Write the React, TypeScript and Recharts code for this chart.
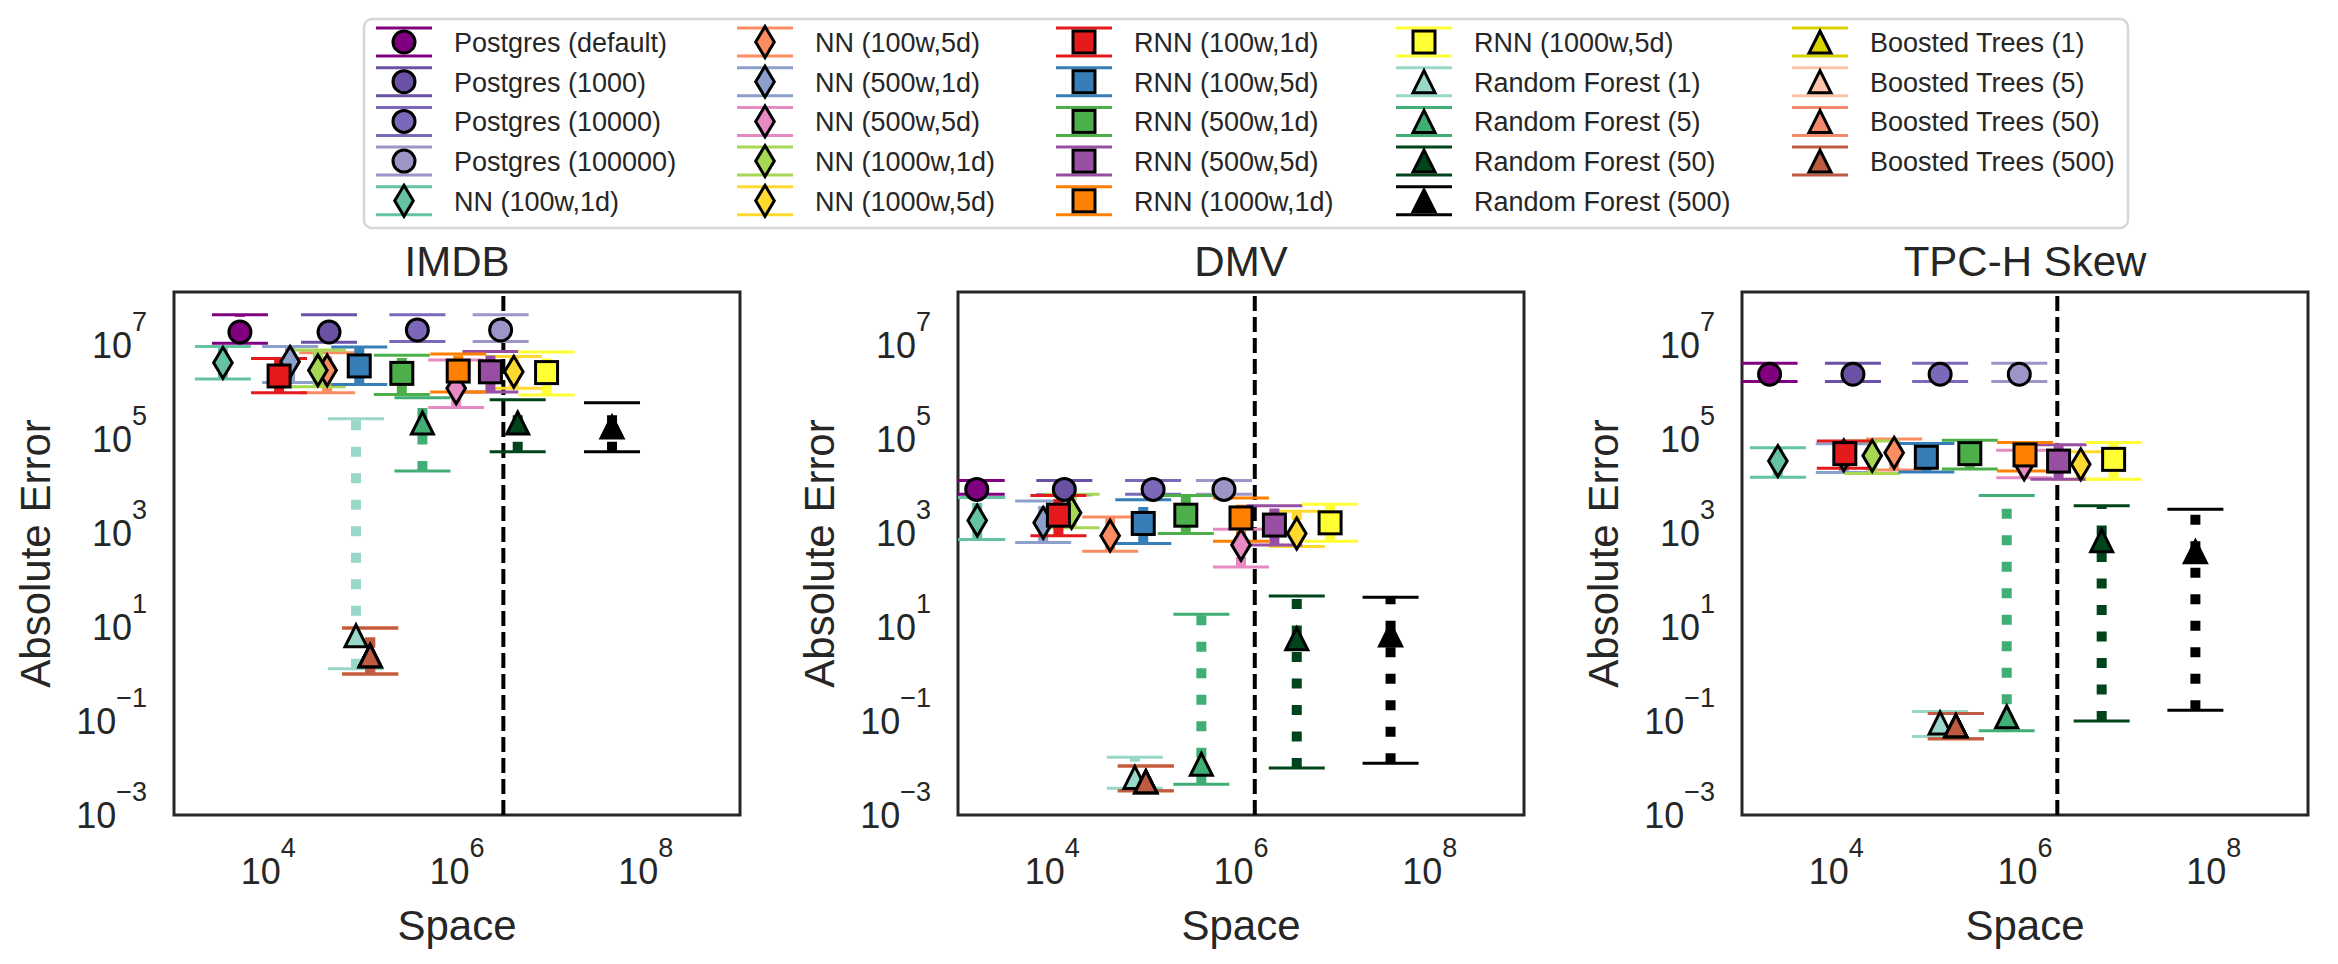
import React from 'react'
import { ScatterChart, Scatter, XAxis, YAxis, ReferenceLine, ReferenceArea } from 'recharts'

const SERIES = [
  'Postgres (default)', 'Postgres (1000)', 'Postgres (10000)', 'Postgres (100000)',
  'NN (100w,1d)', 'NN (100w,5d)', 'NN (500w,1d)', 'NN (500w,5d)', 'NN (1000w,1d)', 'NN (1000w,5d)',
  'RNN (100w,1d)', 'RNN (100w,5d)', 'RNN (500w,1d)', 'RNN (500w,5d)', 'RNN (1000w,1d)', 'RNN (1000w,5d)',
  'Random Forest (1)', 'Random Forest (5)', 'Random Forest (50)', 'Random Forest (500)',
  'Boosted Trees (1)', 'Boosted Trees (5)', 'Boosted Trees (50)', 'Boosted Trees (500)',
]

const COLORS = [
  '#800080', '#6a51a3', '#7b68b8', '#9e94c8',
  '#66c2a5', '#fc8d62', '#8da0cb', '#e78ac3', '#a6d854', '#ffd92f',
  '#e41a1c', '#377eb8', '#4daf4a', '#984ea3', '#ff7f00', '#ffff33',
  '#99d8c9', '#41ae76', '#00441b', '#000000',
  '#d9d400', '#fcc5a9', '#f4896b', '#bf5b43',
]

const MARKERS = [
  'o', 'o', 'o', 'o',
  'd', 'd', 'd', 'd', 'd', 'd',
  's', 's', 's', 's', 's', 's',
  '^', '^', '^', '^',
  '^', '^', '^', '^',
]

const DATASETS = ['IMDB', 'DMV', 'TPC-H Skew']
const THRESHOLDS = [3.1e6, 1.4e6, 2.2e6]

const X_TICKS = [1e4, 1e6, 1e8]
const Y_TICKS = [1e-3, 1e-1, 1e1, 1e3, 1e5, 1e7]

// IMDB
const IMDB_SPACE = [5.0e3, 4.4e4, 3.8e5, 2.9e6, 3.3e3, 4.2e4, 1.7e4, 9.8e5, 3.35e4, 4.0e6, 1.3e4, 9.2e4, 2.6e5, 2.26e6, 1.03e6, 8.9e6, 8.5e4, 4.3e5, 4.4e6, 4.4e7, 1.2e5, 1.2e5, 1.2e5, 1.2e5]
const IMDB_ERROR = [1.9e7, 1.9e7, 2.1e7, 2.1e7, 4.2e6, 2.9e6, 4.4e6, 1.2e6, 2.9e6, 2.7e6, 2.2e6, 3.6e6, 2.5e6, 2.7e6, 2.8e6, 2.6e6, 6.5, 2.2e5, 2.2e5, 1.8e5, 2.45, 2.45, 2.45, 2.45]
const IMDB_LOW = [1.1e7, 1.15e7, 1.2e7, 1.2e7, 1.9e6, 9.7e5, 1.6e6, 4.7e5, 1.3e6, 1.2e6, 9.7e5, 1.45e6, 8.9e5, 1.0e6, 1.0e6, 8.7e5, 1.3, 2.1e4, 5.4e4, 5.4e4, 1.0, 1.0, 1.0, 1.0]
const IMDB_HIGH = [4.4e7, 4.4e7, 4.4e7, 4.4e7, 9.3e6, 6.9e6, 9.3e6, 4.8e6, 7.9e6, 5.7e6, 5.2e6, 9.1e6, 6.1e6, 7.3e6, 6.5e6, 7.1e6, 2.7e5, 7.6e5, 6.9e5, 5.9e5, 9.5, 9.5, 9.5, 9.5]

// DMV
const DMV_SPACE = [1.58e3, 1.34e4, 1.17e5, 6.6e5, 1.6e3, 4.1e4, 8.0e3, 1.0e6, 1.6e4, 3.9e6, 1.16e4, 9.2e4, 2.6e5, 2.26e6, 1.0e6, 8.8e6, 7.5e4, 3.8e5, 3.9e6, 3.85e7, 9.8e4, 9.8e4, 9.8e4, 9.8e4]
const DMV_ERROR = [8.5e3, 8.5e3, 8.5e3, 8.5e3, 1.85e3, 8.8e2, 1.65e3, 5.6e2, 2.7e3, 9.8e2, 2.4e3, 1.6e3, 2.4e3, 1.48e3, 2.1e3, 1.65e3, 6.3e-3, 1.2e-2, 5.6, 6.8, 5.1e-3, 5.1e-3, 5.1e-3, 5.1e-3]
const DMV_LOW = [6.7e3, 6.5e3, 6.7e3, 6.7e3, 7.3e2, 4.1e2, 6.3e2, 1.9e2, 1.3e3, 5.2e2, 8.8e2, 6.0e2, 9.8e2, 5.6e2, 6.7e2, 6.7e2, 3.7e-3, 4.5e-3, 1.0e-2, 1.26e-2, 3.3e-3, 3.3e-3, 3.3e-3, 3.3e-3]
const DMV_HIGH = [1.32e4, 1.32e4, 1.32e4, 1.32e4, 5.7e3, 2.2e3, 4.8e3, 1.2e3, 6.7e3, 2.9e3, 6.3e3, 5.1e3, 6.3e3, 3.8e3, 5.6e3, 4.1e3, 1.7e-2, 18.7, 46, 43, 1.1e-2, 1.1e-2, 1.1e-2, 1.1e-2]

// TPC-H Skew
const TPCH_SPACE = [1.96e3, 1.5e4, 1.26e5, 8.7e5, 2.4e3, 4.1e4, 1.2e4, 9.8e5, 2.4e4, 3.9e6, 1.23e4, 9.0e4, 2.6e5, 2.27e6, 1.0e6, 8.7e6, 1.26e5, 6.4e5, 6.5e6, 6.4e7, 1.85e5, 1.85e5, 1.85e5, 1.85e5]
const TPCH_ERROR = [2.4e6, 2.4e6, 2.4e6, 2.4e6, 3.4e4, 5.1e4, 4.5e4, 2.9e4, 4.4e4, 2.9e4, 4.9e4, 4.1e4, 4.9e4, 3.4e4, 4.6e4, 3.7e4, 9.1e-2, 0.123, 6.9e2, 4.0e2, 7.9e-2, 7.9e-2, 7.9e-2, 7.9e-2]
const TPCH_LOW = [1.67e6, 1.67e6, 1.67e6, 1.67e6, 1.55e4, 2.2e4, 1.95e4, 1.5e4, 1.86e4, 1.4e4, 2.4e4, 2.0e4, 2.3e4, 1.4e4, 2.1e4, 1.4e4, 4.7e-2, 6.2e-2, 0.1, 0.17, 4.2e-2, 4.2e-2, 4.2e-2, 4.2e-2]
const TPCH_HIGH = [4.1e6, 4.1e6, 4.1e6, 4.1e6, 6.5e4, 1.0e5, 8.0e4, 5.8e4, 9.1e4, 5.4e4, 9.1e4, 8.1e4, 9.5e4, 7.6e4, 8.5e4, 8.5e4, 0.16, 6.3e3, 3.8e3, 3.2e3, 0.145, 0.145, 0.145, 0.145]

const PANELS = [
  { space: IMDB_SPACE, error: IMDB_ERROR, low: IMDB_LOW, high: IMDB_HIGH },
  { space: DMV_SPACE, error: DMV_ERROR, low: DMV_LOW, high: DMV_HIGH },
  { space: TPCH_SPACE, error: TPCH_ERROR, low: TPCH_LOW, high: TPCH_HIGH },
]

const X_DOMAIN = [1e3, 1e9]
const Y_DOMAIN = [1e-3, Math.pow(10, 8.13)]

const FONT = '"Liberation Sans", Arial, Helvetica, sans-serif'
const INK = '#262626'

// plot box geometry
const PANEL_W = 784
const PLOT_LEFT = 174
const PLOT_W = 566
const PLOT_TOP = 292
const PLOT_BOTTOM = 815

const LEGEND_TEXT_X = [454, 815, 1134, 1474, 1870]
const LEGEND_ROW_Y = 42
const LEGEND_ROW_H = 39.7

function sup(v: number) {
  const e = Math.round(Math.log10(v))
  return e < 0 ? '\u2212' + -e : String(e)
}

function Marker({ kind, cx, cy, fill }: { kind: string; cx: number; cy: number; fill: string }) {
  const common = { fill, stroke: '#000', strokeWidth: 3, strokeLinejoin: 'miter' as const }
  if (kind === 'o') return <circle cx={cx} cy={cy} r={11} {...common} />
  if (kind === 's') return <rect x={cx - 11} y={cy - 11} width={22} height={22} {...common} />
  if (kind === 'd')
    return <path d={`M${cx},${cy - 15.5}L${cx + 9.3},${cy}L${cx},${cy + 15.5}L${cx - 9.3},${cy}Z`} {...common} />
  return <path d={`M${cx},${cy - 11}L${cx + 11},${cy + 11}L${cx - 11},${cy + 11}Z`} {...common} />
}

function XTick(props: any) {
  const { x, y, payload } = props
  return (
    <text x={x} y={y + 69} textAnchor="middle" fontSize={36} fill={INK} fontFamily={FONT}>
      10<tspan dy={-27} fontSize={27}>{sup(payload.value)}</tspan>
    </text>
  )
}

function YTick(props: any) {
  const { x, y, payload } = props
  return (
    <text x={x - 27} y={y + 13} textAnchor="end" fontSize={36} fill={INK} fontFamily={FONT}>
      10<tspan dy={-27} fontSize={27}>{sup(payload.value)}</tspan>
    </text>
  )
}

function Panel({ index }: { index: number }) {
  const d = PANELS[index]
  return (
    <div style={{ position: 'absolute', left: index * PANEL_W, top: 0 }}>
      <ScatterChart
        width={PANEL_W}
        height={964}
        margin={{ top: PLOT_TOP, right: PANEL_W - PLOT_LEFT - PLOT_W, bottom: 964 - PLOT_BOTTOM - 100, left: PLOT_LEFT - 100 }}
      >
        <XAxis
          type="number"
          dataKey="x"
          scale="log"
          domain={X_DOMAIN}
          ticks={X_TICKS}
          interval={0}
          allowDataOverflow
          axisLine={false}
          tickLine={false}
          tickSize={0}
          tickMargin={0}
          height={100}
          tick={<XTick />}
        />
        <YAxis
          type="number"
          dataKey="y"
          scale="log"
          domain={Y_DOMAIN}
          ticks={Y_TICKS}
          interval={0}
          allowDataOverflow
          axisLine={false}
          tickLine={false}
          tickSize={0}
          tickMargin={0}
          width={100}
          tick={<YTick />}
        />
        <ReferenceArea
          x1={X_DOMAIN[0]}
          x2={X_DOMAIN[1]}
          y1={Y_DOMAIN[0]}
          y2={Y_DOMAIN[1]}
          fill="none"
          stroke={INK}
          strokeWidth={3}
          ifOverflow="visible"
        />
        {SERIES.map((name, i) => (
          <Scatter
            key={'err-' + name}
            data={[
              { x: d.space[i], y: d.low[i] },
              { x: d.space[i], y: d.high[i] },
            ]}
            line={{ stroke: COLORS[i], strokeWidth: 10, strokeDasharray: '10 16.5' }}
            shape={(p: any) => (
              <line x1={p.cx - 28} x2={p.cx + 28} y1={p.cy} y2={p.cy} stroke={COLORS[i]} strokeWidth={3} />
            )}
            isAnimationActive={false}
          />
        ))}
        <ReferenceLine x={THRESHOLDS[index]} stroke="#000" strokeWidth={4} strokeDasharray="15 6" />
        {SERIES.map((name, i) => (
          <Scatter
            key={'pt-' + name}
            data={[{ x: d.space[i], y: d.error[i] }]}
            shape={(p: any) => <Marker kind={MARKERS[i]} cx={p.cx} cy={p.cy} fill={COLORS[i]} />}
            isAnimationActive={false}
          />
        ))}
      </ScatterChart>
    </div>
  )
}

function Overlay() {
  const midY = (PLOT_TOP + PLOT_BOTTOM) / 2
  return (
    <svg
      width={2338}
      height={964}
      style={{ position: 'absolute', left: 0, top: 0, pointerEvents: 'none' }}
      fontFamily={FONT}
    >
      <rect x={364} y={19} width={1764} height={209} rx={8} fill="#fff" stroke="#d6d6d6" strokeWidth={2.5} />
      {SERIES.map((name, i) => {
        const col = Math.floor(i / 5)
        const row = i % 5
        const tx = LEGEND_TEXT_X[col]
        const cx = tx - 50
        const cy = LEGEND_ROW_Y + row * LEGEND_ROW_H
        return (
          <g key={name}>
            <line x1={cx - 28} x2={cx + 28} y1={cy - 14} y2={cy - 14} stroke={COLORS[i]} strokeWidth={3} />
            <line x1={cx - 28} x2={cx + 28} y1={cy + 14} y2={cy + 14} stroke={COLORS[i]} strokeWidth={3} />
            <Marker kind={MARKERS[i]} cx={cx} cy={cy} fill={COLORS[i]} />
            <text x={tx} y={cy + 10} fontSize={27} fill={INK}>
              {name}
            </text>
          </g>
        )
      })}
      {DATASETS.map((title, i) => {
        const left = i * PANEL_W + PLOT_LEFT
        const cx = left + PLOT_W / 2
        const lx = left - 124
        return (
          <g key={title}>
            <text x={cx} y={276} textAnchor="middle" fontSize={42} fill={INK}>
              {title}
            </text>
            <text x={cx} y={940} textAnchor="middle" fontSize={42} fill={INK}>
              Space
            </text>
            <text
              x={lx}
              y={midY}
              transform={`rotate(-90 ${lx} ${midY})`}
              textAnchor="middle"
              fontSize={42}
              fill={INK}
            >
              Absolute Error
            </text>
          </g>
        )
      })}
    </svg>
  )
}

export default function App() {
  return (
    <div style={{ position: 'absolute', left: 0, top: 0, width: 2338, height: 964, background: '#fff', fontFamily: FONT }}>
      {DATASETS.map((name, i) => (
        <Panel key={name} index={i} />
      ))}
      <Overlay />
    </div>
  )
}
